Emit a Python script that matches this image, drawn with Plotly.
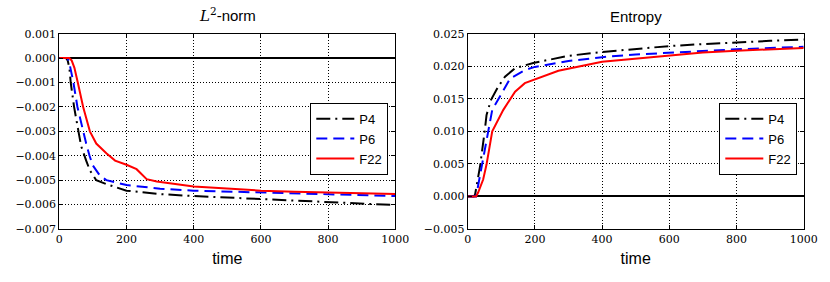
import plotly.graph_objects as go

# ---- L2-norm data ----
l2_t_p4 = [0, 10, 20, 25, 30, 34, 44, 57, 65, 80, 91, 110, 140, 200, 300, 400, 500, 600, 700, 800, 900, 1000]
l2_p4 = [0, 0, 0, -0.0001, -0.0004, -0.001, -0.002, -0.003, -0.0036, -0.0042, -0.0046, -0.0050, -0.00516,
         -0.00543, -0.00557, -0.00565, -0.00571, -0.00578, -0.00584, -0.0059, -0.00596, -0.00602]
l2_t_p6 = [0, 10, 20, 25, 30, 42, 54, 70, 80, 90, 100, 120, 140, 200, 300, 400, 500, 600, 700, 800, 900, 1000]
l2_p6 = [0, 0, 0, 0, -0.0002, -0.001, -0.002, -0.003, -0.0035, -0.0040, -0.0044, -0.0048, -0.0050,
         -0.0052, -0.00535, -0.00543, -0.00547, -0.0055, -0.00554, -0.00557, -0.00561, -0.00565]
l2_t_f22 = [0, 10, 20, 30, 37, 45, 55, 71, 91, 110, 140, 166, 200, 230, 260, 290, 400, 500, 600, 700, 800, 900, 1000]
l2_f22 = [0, 0, 0, 0, -0.0001, -0.0004, -0.001, -0.002, -0.003, -0.0035, -0.0039, -0.0042, -0.00437,
          -0.00455, -0.00496, -0.00505, -0.00526, -0.00536, -0.00543, -0.00547, -0.0055, -0.00554, -0.00557]

# ---- Entropy data ----
en_t_p4 = [0, 10, 18, 22, 37, 51, 56, 69, 90, 111, 141, 195, 300, 400, 500, 600, 700, 800, 900, 1000]
en_p4 = [0, 0, 0, 0.0003, 0.0047, 0.0102, 0.0125, 0.0148, 0.0168, 0.0184, 0.0197, 0.0205, 0.0216,
         0.0222, 0.0227, 0.0231, 0.0234, 0.0237, 0.0239, 0.0241]
en_t_p6 = [0, 10, 20, 25, 42, 52, 61, 73, 101, 126, 170, 200, 300, 400, 500, 600, 700, 800, 900, 1000]
en_p6 = [0, 0, 0, 0, 0.0047, 0.0075, 0.0100, 0.0133, 0.0158, 0.0181, 0.0194, 0.0199, 0.0208,
         0.0214, 0.0218, 0.0221, 0.0224, 0.0226, 0.0228, 0.0230]
en_t_f22 = [0, 10, 20, 25, 31, 46, 56, 67, 73, 106, 141, 170, 200, 270, 400, 500, 600, 700, 800, 900, 1000]
en_f22 = [0, 0, 0, 0, 0.0006, 0.0026, 0.0049, 0.0080, 0.0100, 0.0133, 0.0161, 0.0174, 0.0180, 0.0193,
          0.0207, 0.0212, 0.0217, 0.0221, 0.0224, 0.0226, 0.0228]

names = ["P4", "P6", "F22"]
colors = ["black", "blue", "red"]
dashes = ["14px,5px,2px,5px", "11px,6px", "solid"]

fig = go.Figure()
l2_sets = [(l2_t_p4, l2_p4), (l2_t_p6, l2_p6), (l2_t_f22, l2_f22)]
en_sets = [(en_t_p4, en_p4), (en_t_p6, en_p6), (en_t_f22, en_f22)]
for i in range(3):
    fig.add_trace(go.Scatter(x=l2_sets[i][0], y=l2_sets[i][1], mode="lines", name=names[i],
                             line=dict(color=colors[i], width=2, dash=dashes[i]),
                             xaxis="x", yaxis="y", legend="legend"))
for i in range(3):
    fig.add_trace(go.Scatter(x=en_sets[i][0], y=en_sets[i][1], mode="lines", name=names[i],
                             line=dict(color=colors[i], width=2, dash=dashes[i]),
                             xaxis="x2", yaxis="y2", legend="legend2"))

tickfont = dict(family="DejaVu Serif", size=11, color="black")
common_x = dict(range=[0, 1000], tickvals=[0, 200, 400, 600, 800, 1000],
                ticktext=["0", "200", "400", "600", "800", "1000"],
                showline=True, mirror="allticks", linecolor="black", linewidth=1,
                ticks="inside", ticklen=4, tickcolor="black",
                showgrid=True, gridcolor="black", griddash="1px,2px", gridwidth=1,
                zeroline=False, tickfont=tickfont, automargin=False,
                title=dict(text="time", font=dict(family="Liberation Sans", size=16, color="black"), standoff=7))
common_y = dict(showline=True, mirror="allticks", linecolor="black", linewidth=1,
                ticks="inside", ticklen=4, tickcolor="black",
                showgrid=True, gridcolor="black", griddash="1px,2px", gridwidth=1,
                zeroline=True, zerolinecolor="black", zerolinewidth=1.5,
                tickfont=tickfont, automargin=False)

l2_ticks = [0.001, 0.0, -0.001, -0.002, -0.003, -0.004, -0.005, -0.006, -0.007]
l2_labels = ["0.001", "0.000", "\u22120.001", "\u22120.002", "\u22120.003", "\u22120.004", "\u22120.005", "\u22120.006", "\u22120.007"]
en_ticks = [0.025, 0.020, 0.015, 0.010, 0.005, 0.0, -0.005]
en_labels = ["0.025", "0.020", "0.015", "0.010", "0.005", "0.000", "\u22120.005"]

legend_style = dict(xanchor="right", y=1 - 102.7 / 282, yanchor="top",
                    bordercolor="black", borderwidth=1, bgcolor="white",
                    itemwidth=38, tracegroupgap=0,
                    font=dict(family="Liberation Sans", size=13, color="black"))

ydom = [1 - 229 / 282, 1 - 33.7 / 282]
fig.update_layout(
    width=830, height=282,
    margin=dict(l=0, r=0, t=0, b=0),
    paper_bgcolor="white", plot_bgcolor="white",
    xaxis=dict(domain=[59.3 / 830, 395.3 / 830], anchor="y", **common_x),
    xaxis2=dict(domain=[467.7 / 830, 803.7 / 830], anchor="y2", **common_x),
    yaxis=dict(domain=ydom, anchor="x", range=[-0.007, 0.001], tickvals=l2_ticks, ticktext=l2_labels, **common_y),
    yaxis2=dict(domain=ydom, anchor="x2", range=[-0.005, 0.025], tickvals=en_ticks, ticktext=en_labels, **common_y),
    legend=dict(x=388.3 / 830, **legend_style),
    legend2=dict(x=797.3 / 830, **legend_style),
    annotations=[
        dict(text="<span style='font-family:DejaVu Serif'><i>L</i><sup>2</sup></span>-norm",
             x=(59.3 + 395.3) / 2 / 830, y=1 - 27 / 282, xref="paper", yref="paper",
             xanchor="center", yanchor="bottom", showarrow=False,
             font=dict(family="Liberation Sans", size=15, color="black")),
        dict(text="Entropy",
             x=(467.7 + 803.7) / 2 / 830, y=1 - 27 / 282, xref="paper", yref="paper",
             xanchor="center", yanchor="bottom", showarrow=False,
             font=dict(family="Liberation Sans", size=15, color="black")),
    ],
)

fig.write_html("out.html", config={"displayModeBar": False})
with open("out.html", "r", encoding="utf-8") as f:
    html = f.read()
html = html.replace("<head>", "<head><style>html,body{margin:0;padding:0;overflow:hidden;}</style>", 1)
with open("out.html", "w", encoding="utf-8") as f:
    f.write(html)
